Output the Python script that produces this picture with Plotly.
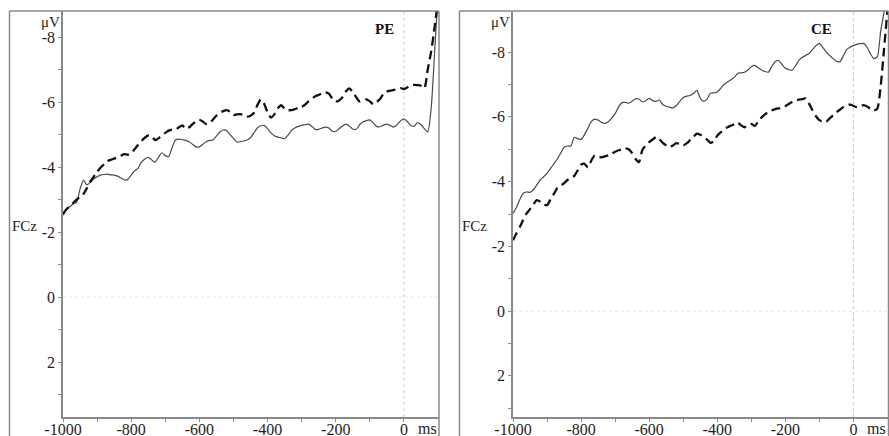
import plotly.graph_objects as go

# Time base (ms) of the averaged epochs
times = list(range(-1000, 101, 10))

# PE condition, FCz (µV)
pe_solid = [
    -2.52, -2.68, -2.78, -2.86, -2.92, -3.32, -3.60, -3.45, -3.52, -3.64,
    -3.70, -3.75, -3.77, -3.78, -3.76, -3.75, -3.72, -3.66, -3.60, -3.62,
    -3.75, -3.88, -3.96, -4.15, -4.25, -4.30, -4.22, -4.15, -4.30, -4.44,
    -4.35, -4.32, -4.60, -4.83, -4.86, -4.84, -4.82, -4.78, -4.70, -4.62,
    -4.62, -4.70, -4.78, -4.82, -4.83, -4.95, -5.08, -5.14, -5.12, -5.00,
    -4.88, -4.77, -4.78, -4.80, -4.83, -4.90, -5.05, -5.20, -5.27, -5.28,
    -5.18, -5.05, -4.96, -4.92, -4.90, -4.87, -4.98, -5.12, -5.20, -5.25,
    -5.28, -5.30, -5.32, -5.25, -5.16, -5.16, -5.20, -5.23, -5.20, -5.10,
    -5.10, -5.18, -5.26, -5.32, -5.26, -5.17, -5.16, -5.30, -5.39, -5.43,
    -5.45, -5.36, -5.25, -5.24, -5.29, -5.32, -5.28, -5.23, -5.30, -5.42,
    -5.48, -5.40, -5.28, -5.25, -5.37, -5.30, -5.18, -5.08, -5.80, -7.50,
    -9.30,
]
pe_dashed = [
    -2.55, -2.70, -2.80, -2.90, -3.00, -3.08, -3.17, -3.35, -3.55, -3.70,
    -3.85, -3.98, -4.08, -4.18, -4.22, -4.26, -4.30, -4.35, -4.40, -4.38,
    -4.42, -4.55, -4.68, -4.80, -4.90, -4.97, -4.95, -4.83, -4.88, -4.98,
    -5.05, -5.12, -5.15, -5.16, -5.22, -5.28, -5.17, -5.22, -5.32, -5.40,
    -5.45, -5.40, -5.32, -5.35, -5.46, -5.58, -5.66, -5.72, -5.75, -5.70,
    -5.60, -5.62, -5.63, -5.60, -5.55, -5.58, -5.66, -5.90, -6.08, -5.95,
    -5.68, -5.52, -5.62, -5.80, -5.90, -5.80, -5.75, -5.75, -5.78, -5.82,
    -5.85, -5.92, -6.02, -6.10, -6.18, -6.22, -6.27, -6.30, -6.26, -6.10,
    -6.02, -6.05, -6.15, -6.33, -6.42, -6.30, -6.15, -6.02, -6.05, -6.08,
    -6.02, -5.94, -6.00, -6.09, -6.25, -6.32, -6.35, -6.37, -6.40, -6.43,
    -6.40, -6.45, -6.52, -6.53, -6.52, -6.50, -6.42, -7.00, -7.55, -8.30,
    -9.10,
]

# CE condition, FCz (µV)
ce_solid = [
    -3.02, -3.20, -3.45, -3.64, -3.68, -3.67, -3.75, -3.90, -4.05, -4.15,
    -4.26, -4.40, -4.55, -4.70, -4.88, -5.06, -5.10, -5.10, -5.37, -5.33,
    -5.30, -5.45, -5.65, -5.85, -5.93, -5.90, -5.83, -5.80, -5.85, -5.96,
    -6.10, -6.30, -6.44, -6.45, -6.42, -6.48, -6.56, -6.55, -6.46, -6.50,
    -6.57, -6.50, -6.48, -6.52, -6.38, -6.33, -6.30, -6.28, -6.35, -6.48,
    -6.60, -6.64, -6.66, -6.72, -6.82, -6.58, -6.48, -6.55, -6.73, -6.74,
    -6.77, -6.88, -7.00, -7.08, -7.15, -7.22, -7.35, -7.36, -7.38, -7.45,
    -7.55, -7.59, -7.52, -7.45, -7.40, -7.38, -7.55, -7.70, -7.74, -7.62,
    -7.50, -7.46, -7.44, -7.58, -7.75, -7.84, -7.90, -7.96, -8.08, -8.20,
    -8.27, -8.15, -8.00, -7.90, -7.80, -7.72, -7.70, -7.88, -8.08, -8.15,
    -8.20, -8.24, -8.26, -8.27, -8.15, -7.95, -7.80, -7.85, -8.65, -9.25,
    -10.30,
]
ce_dashed = [
    -2.19, -2.40, -2.60, -2.82, -3.02, -3.15, -3.30, -3.43, -3.38, -3.30,
    -3.27, -3.45, -3.62, -3.80, -3.88, -3.95, -4.05, -4.12, -4.18, -4.35,
    -4.52, -4.55, -4.44, -4.65, -4.81, -4.78, -4.75, -4.78, -4.81, -4.86,
    -4.92, -4.97, -5.00, -5.03, -5.00, -4.88, -4.70, -4.60, -4.98, -5.12,
    -5.22, -5.30, -5.37, -5.30, -5.20, -5.12, -5.06, -5.12, -5.19, -5.16,
    -5.12, -5.18, -5.28, -5.38, -5.48, -5.45, -5.38, -5.30, -5.20, -5.25,
    -5.42, -5.52, -5.62, -5.68, -5.73, -5.77, -5.82, -5.74, -5.68, -5.74,
    -5.78, -5.72, -5.85, -5.98, -6.08, -6.15, -6.20, -6.24, -6.26, -6.27,
    -6.33, -6.40, -6.46, -6.51, -6.53, -6.55, -6.57, -6.40, -6.20, -6.02,
    -5.90, -5.85, -5.85, -5.95, -6.05, -6.14, -6.22, -6.30, -6.36, -6.38,
    -6.34, -6.30, -6.33, -6.36, -6.32, -6.25, -6.20, -6.25, -6.95, -8.10,
    -9.30,
]

x_tickvals = [-1000, -800, -600, -400, -200, 0]
x_ticktext = ["-1000", "-800", "-600", "-400", "-200", "0"]
x_minorvals = [-900, -700, -500, -300, -100]
y_tickvals = [-8, -6, -4, -2, 0, 2]
y_ticktext = ["-8", "-6", "-4", "-2", "0", "2"]
y_minorvals = [-7, -5, -3, -1, 1, 3]
panel_titles = ["PE", "CE"]

W, H = 889, 436
AXIS_GRAY = "#8a8a8a"
TEXT = "#1e1e1e"
SERIF = "Liberation Serif, Times New Roman, serif"


def px(x):
    return x / W


def py(y):
    return 1 - y / H


fig = go.Figure()

solid_style = dict(color="#4a4a4a", width=1.2, shape="spline", smoothing=0.6)
dashed_style = dict(color="#111111", width=2.3, dash="9px,5px", shape="spline", smoothing=0.6)

for i, (s, d) in enumerate([(pe_solid, pe_dashed), (ce_solid, ce_dashed)]):
    xa = "x" if i == 0 else "x2"
    ya = "y" if i == 0 else "y2"
    fig.add_trace(go.Scatter(x=times, y=s, mode="lines", line=solid_style,
                             xaxis=xa, yaxis=ya, showlegend=False, hoverinfo="skip"))
    fig.add_trace(go.Scatter(x=times, y=d, mode="lines", line=dashed_style,
                             xaxis=xa, yaxis=ya, showlegend=False, hoverinfo="skip"))

y_top, y_bot = 11, 417
panels = [
    dict(frame_l=9.5, plot_l=63, plot_r=439, yrange=[3.69, -8.8], title_x=384),
    dict(frame_l=459.5, plot_l=513, plot_r=888.5, yrange=[3.27, -9.27], title_x=821),
]

common_x = dict(
    range=[-1000, 103], tickvals=x_tickvals, ticktext=x_ticktext,
    ticks="outside", ticklen=3, tickwidth=1.2, tickcolor=AXIS_GRAY,
    showline=True, linecolor=AXIS_GRAY, linewidth=1.5,
    showgrid=False, zeroline=False, fixedrange=True, automargin=False,
    tickfont=dict(family=SERIF, size=16, color=TEXT),
    minor=dict(tickvals=x_minorvals, ticks="outside", ticklen=3,
               tickwidth=1.2, tickcolor=AXIS_GRAY, showgrid=False),
)
common_y = dict(
    tickvals=y_tickvals, ticktext=y_ticktext,
    ticks="outside", ticklen=3, tickwidth=1.2, tickcolor=AXIS_GRAY,
    showline=True, linecolor=AXIS_GRAY, linewidth=1.5,
    showgrid=False, zeroline=False, fixedrange=True, automargin=False,
    tickfont=dict(family=SERIF, size=16, color=TEXT),
    minor=dict(tickvals=y_minorvals, ticks="outside", ticklen=3,
               tickwidth=1.2, tickcolor=AXIS_GRAY, showgrid=False),
)

layout_axes = {}
for i, p in enumerate(panels):
    sx = "" if i == 0 else "2"
    xd = [px(p["plot_l"]), px(p["plot_r"])]
    yd = [py(y_bot), py(y_top)]
    layout_axes["xaxis" + sx] = dict(common_x, domain=xd, anchor="y" + sx)
    layout_axes["yaxis" + sx] = dict(common_y, domain=yd, range=p["yrange"], anchor="x" + sx)

shapes = []
annotations = []
for i, p in enumerate(panels):
    sx = "" if i == 0 else "2"
    line = dict(color=AXIS_GRAY, width=1.5)
    # outer frame: left edge, top edge, right edge
    shapes.append(dict(type="line", xref="paper", yref="paper",
                       x0=px(p["frame_l"]), x1=px(p["frame_l"]), y0=0, y1=py(y_top),
                       line=line))
    shapes.append(dict(type="line", xref="paper", yref="paper",
                       x0=px(p["frame_l"]), x1=px(p["plot_r"]), y0=py(y_top), y1=py(y_top),
                       line=line))
    shapes.append(dict(type="line", xref="paper", yref="paper",
                       x0=px(p["plot_r"]), x1=px(p["plot_r"]), y0=0, y1=py(y_top),
                       line=line))
    # event marker at 0 ms and baseline at 0 µV
    shapes.append(dict(type="line", xref="x" + sx, yref="y" + sx + " domain",
                       x0=0, x1=0, y0=0, y1=1,
                       line=dict(color="#c8c8c8", width=1, dash="dot")))
    shapes.append(dict(type="line", xref="x" + sx + " domain", yref="y" + sx,
                       x0=0, x1=1, y0=0, y1=0,
                       line=dict(color="#e6e6e6", width=1, dash="dot")))

    annotations += [
        dict(text="\u03bcV", xref="paper", yref="paper",
             x=px(p["plot_l"] - 1), y=py(22), xanchor="right", yanchor="middle",
             showarrow=False, font=dict(family=SERIF, size=15, color=TEXT)),
        dict(text="FCz", xref="paper", yref="paper",
             x=px(p["frame_l"] + 0.5), y=py(226), xanchor="left", yanchor="middle",
             showarrow=False, font=dict(family=SERIF, size=15, color=TEXT)),
        dict(text="<b>" + panel_titles[i] + "</b>", xref="paper", yref="paper",
             x=px(p["title_x"]), y=py(29), xanchor="center", yanchor="middle",
             showarrow=False, font=dict(family=SERIF, size=15, color="#111111")),
        dict(text="ms", xref="paper", yref="paper",
             x=px(p["plot_r"] - 12), y=py(428), xanchor="center", yanchor="middle",
             showarrow=False, font=dict(family=SERIF, size=16, color=TEXT)),
    ]

fig.update_layout(
    width=W, height=H,
    margin=dict(l=0, r=0, t=0, b=0),
    paper_bgcolor="white", plot_bgcolor="white",
    shapes=shapes, annotations=annotations,
    **layout_axes,
)

# pull the time labels up against the axis so they sit inside the page
try:
    fig.update_xaxes(ticklabelstandoff=-6)
except ValueError:
    fig.update_xaxes(tickfont_size=14)

fig.write_html("out.html")
